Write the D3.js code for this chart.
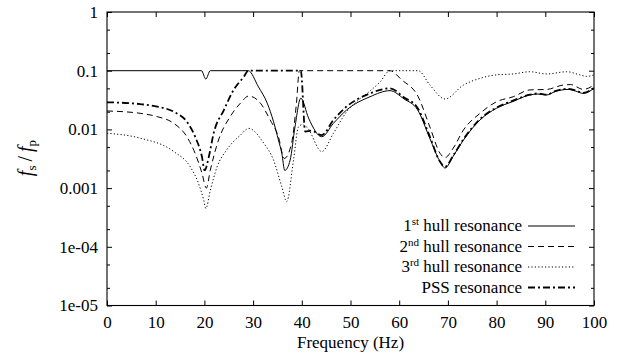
<!DOCTYPE html>
<html><head><meta charset="utf-8">
<script src="https://cdn.jsdelivr.net/npm/d3@7"></script>
<style>
html,body{margin:0;padding:0;background:#fff;}
svg text{font-family:"Liberation Serif","DejaVu Serif","Noto Serif",Times,serif;fill:#000;}
</style></head>
<body>
<svg id="chart" width="621" height="356"></svg>
<script>
// ---- data ----
const xTicks = [0,10,20,30,40,50,60,70,80,90,100];
const yTicks = [1e-5,1e-4,1e-3,1e-2,1e-1,1];
const yTickLabels = ["1e-05","1e-04","0.001","0.01","0.1","1"];

const hull1Freq = [0,19.4,20.3,21.2,29.0,31.1,32.9,34.2,35.2,35.9,36.5,37.6,38.6,39.8,41.4,44.1,46.5,49.2,54.0,58.1,61.0,63.8,66.3,68.4,69.4,71.1,73.2,76.6,80.0,83.4,86.8,88.5,90.3,92.0,94.7,96.2,97.8,100];
const hull1Vals = [0.1,0.1,0.072,0.1,0.1,0.053,0.028,0.0135,0.0066,0.0039,0.0020,0.003,0.011,0.034,0.0155,0.0075,0.0127,0.0214,0.036,0.0457,0.033,0.0214,0.007,0.0028,0.0022,0.0035,0.0066,0.0145,0.023,0.030,0.0386,0.040,0.0386,0.044,0.048,0.045,0.041,0.05];

const hull2Freq = [0,6.8,10.3,13.7,16.4,18.1,19.5,20.4,21.2,22.9,25.3,27.4,29.1,31.5,33.5,35.2,36.4,37.9,38.9,39.5,58.1,60.5,63.9,66.3,68.4,69.4,71.1,73.2,76.6,80,83.4,86.8,90.3,93.7,95.2,97.8,100];
const hull2Vals = [0.0206,0.0188,0.0165,0.0127,0.0075,0.0039,0.0018,0.001,0.002,0.0066,0.0165,0.028,0.037,0.028,0.0145,0.0075,0.0032,0.0058,0.028,0.1,0.1,0.07,0.036,0.011,0.0039,0.0033,0.0048,0.0098,0.0188,0.0296,0.036,0.047,0.048,0.057,0.058,0.048,0.057];

const hull3Freq = [0,6.8,13.7,17.1,18.8,19.85,20.3,21.2,22.6,24.6,27.4,29.1,32.2,34.2,35.9,36.9,38.3,39.3,40.0,41.0,44.1,46.5,49.2,51.5,54.0,56.1,58.1,63.9,66.3,69.4,73.2,76.6,80,83.4,86.8,90.3,94.4,97.1,98.5,100];
const hull3Vals = [0.0086,0.0071,0.0042,0.0023,0.0012,0.00063,0.00045,0.0009,0.0023,0.0045,0.008,0.0104,0.0058,0.003,0.00105,0.00059,0.003,0.011,0.012,0.011,0.0042,0.0086,0.02,0.031,0.045,0.065,0.1,0.1,0.057,0.033,0.057,0.074,0.085,0.088,0.096,0.088,0.096,0.085,0.08,0.085];

const pssFreq = [0,6.8,10.3,13.7,16.4,18.1,19.5,20.05,20.9,21.9,24,26,28.1,29,39.8,40.7,42,44.1,46.5,49.2,54,58.1,61,63.8,66.3,68.4,69.4,71.1,73.2,76.6,80,83.4,86.8,88.5,90.3,92,94.7,96.2,97.8,100];
const pssVals = [0.029,0.027,0.0245,0.02,0.0135,0.0075,0.0034,0.002,0.0034,0.0086,0.0214,0.047,0.079,0.1,0.1,0.0092,0.0095,0.008,0.0145,0.0245,0.041,0.05,0.035,0.023,0.0075,0.0028,0.0023,0.0036,0.0068,0.015,0.0235,0.031,0.039,0.041,0.039,0.045,0.049,0.046,0.042,0.051];

const seriesNames = ["1st hull resonance","2nd hull resonance","3rd hull resonance","PSS resonance"];

// ---- drawing ----
const FONT = '"Liberation Serif","DejaVu Serif","Noto Serif",Times,serif';
const svg = d3.select("#chart");
const L = 107, R = 594, T = 12, B = 305.5;
const x = d3.scaleLinear().domain([0,100]).range([L,R]);
const y = d3.scaleLog().domain([1e-5,1]).range([B,T]);

const series = [
  {f:hull1Freq, v:hull1Vals, dash:null, w:1},
  {f:hull2Freq, v:hull2Vals, dash:"6,4", w:1},
  {f:hull3Freq, v:hull3Vals, dash:"1.2,2.2", w:1},
  {f:pssFreq, v:pssVals, dash:"7,3,2,3", w:1.8}
];

svg.append("defs").append("clipPath").attr("id","clip")
  .append("rect").attr("x",L).attr("y",T).attr("width",R-L).attr("height",B-T);

const line = d3.line().x(d=>x(d[0])).y(d=>y(d[1])).curve(d3.curveMonotoneX);
const g = svg.append("g").attr("clip-path","url(#clip)");
series.forEach(s=>{
  const pts = s.f.map((f,i)=>[f,s.v[i]]);
  g.append("path").attr("d",line(pts)).attr("fill","none").attr("stroke","#000")
    .attr("stroke-width",s.w).attr("stroke-dasharray",s.dash);
});

// axes with inward ticks on all sides
const axB = d3.axisBottom(x).tickValues(xTicks).tickSizeInner(-5).tickSizeOuter(0).tickPadding(10);
const axT = d3.axisTop(x).tickValues(xTicks).tickSizeInner(-5).tickSizeOuter(0).tickFormat("");
const axL = d3.axisLeft(y).tickValues(yTicks).tickSizeInner(-5).tickSizeOuter(0).tickPadding(9)
  .tickFormat((d,i)=>yTickLabels[i]);
const axR = d3.axisRight(y).tickValues(yTicks).tickSizeInner(-5).tickSizeOuter(0).tickFormat("");
const minor = [];
yTicks.slice(0,-1).forEach(t=>{ minor.push(t*2, t*5); });
const axLm = d3.axisLeft(y).tickValues(minor).tickSizeInner(-3).tickSizeOuter(0).tickFormat("");
const axRm = d3.axisRight(y).tickValues(minor).tickSizeInner(-3).tickSizeOuter(0).tickFormat("");

function styleAxis(sel){
  sel.attr("font-family",FONT);
  sel.select(".domain").remove();
  sel.selectAll("line").attr("stroke","#000").attr("stroke-width",1);
  sel.selectAll("text").attr("font-size",17).style("font-family",FONT);
}
svg.append("g").attr("transform",`translate(0,${B})`).call(axB).call(styleAxis);
svg.append("g").attr("transform",`translate(0,${T})`).call(axT).call(styleAxis);
svg.append("g").attr("transform",`translate(${L},0)`).call(axL).call(styleAxis);
svg.append("g").attr("transform",`translate(${R},0)`).call(axR).call(styleAxis);
svg.append("g").attr("transform",`translate(${L},0)`).call(axLm).call(styleAxis);
svg.append("g").attr("transform",`translate(${R},0)`).call(axRm).call(styleAxis);

svg.append("rect").attr("x",L).attr("y",T).attr("width",R-L).attr("height",B-T)
  .attr("fill","none").attr("stroke","#000").attr("stroke-width",1.1);

// axis titles
svg.append("text").attr("x",(L+R)/2).attr("y",348).attr("text-anchor","middle")
  .attr("font-size",17).style("font-family",FONT).text("Frequency (Hz)");
const yl = svg.append("text").attr("transform","translate(32,158) rotate(-90)")
  .attr("text-anchor","middle").attr("font-size",20).style("font-family",FONT);
yl.append("tspan").attr("font-style","italic").text("f");
yl.append("tspan").attr("font-size",13).attr("dy",4).text("s");
yl.append("tspan").attr("dy",-4).text("\u2009/\u2009");
yl.append("tspan").attr("font-style","italic").text("f");
yl.append("tspan").attr("font-size",13).attr("dy",4).text("p");

// legend
const legY = [226,246.5,267,287.5];
const sup = ["st","nd","rd"];
const pre = ["1","2","3"];
series.forEach((s,i)=>{
  const yy = legY[i];
  svg.append("line").attr("x1",528).attr("x2",575).attr("y1",yy).attr("y2",yy)
    .attr("stroke","#000").attr("stroke-width",s.w).attr("stroke-dasharray",s.dash);
  const t = svg.append("text").attr("x",522).attr("y",yy+5).attr("text-anchor","end")
    .attr("font-size",17).style("font-family",FONT);
  if(i<3){
    t.append("tspan").text(pre[i]);
    t.append("tspan").attr("font-size",11).attr("dy",-6).text(sup[i]);
    t.append("tspan").attr("dy",6).text(" hull resonance");
  } else {
    t.text(seriesNames[i]);
  }
});
</script>
</body></html>
